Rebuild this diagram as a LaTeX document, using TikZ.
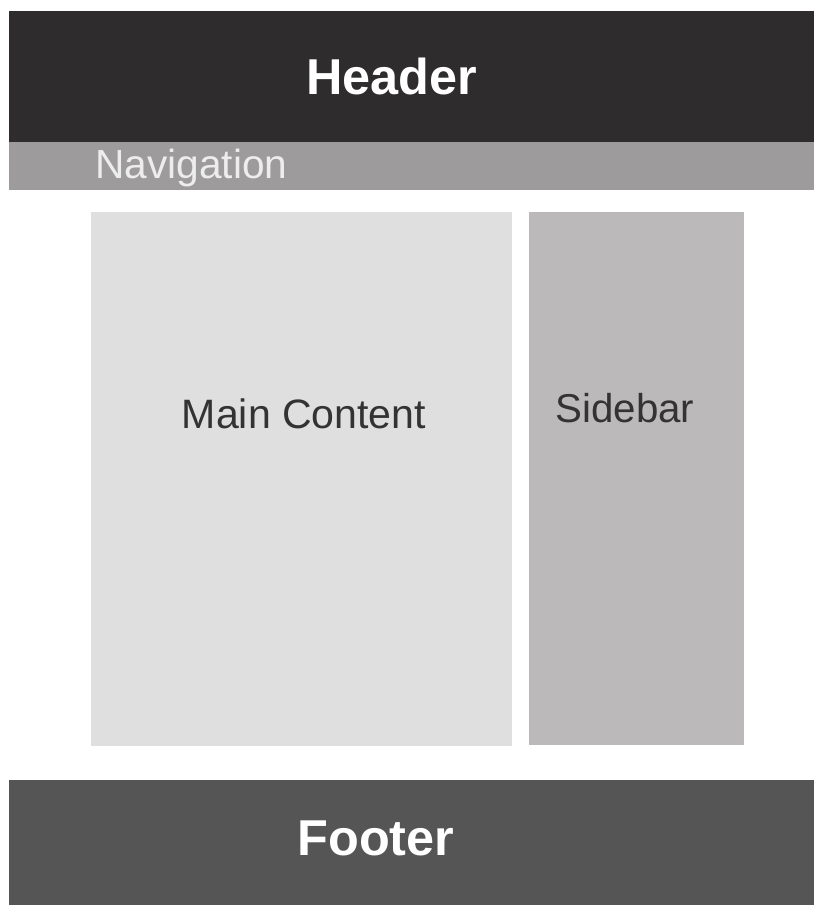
\documentclass[tikz,border=0pt]{standalone}
\usepackage{fontspec}
\setmainfont{Liberation Sans}
\definecolor{headergray}{HTML}{2E2C2D}
\definecolor{navgray}{HTML}{9D9B9C}
\definecolor{maingray}{HTML}{DFDFDF}
\definecolor{sidegray}{HTML}{BBB9BA}
\definecolor{footergray}{HTML}{555555}
\definecolor{textgray}{HTML}{333333}
\tikzset{
    bigtitle/.style={text=white, font=\fontsize{37.8}{40}\selectfont\bfseries, inner sep=0pt},
    boxlabel/.style={text=textgray, font=\fontsize{30.2}{32}\selectfont, inner sep=0pt}
}
\begin{document}
\begin{tikzpicture}[x=0.75pt, y=-0.75pt]
        \useasboundingbox (0, 0) rectangle (814, 905);
        \fill[headergray] (9, 11) rectangle (814, 142);
        \fill[navgray] (9, 142) rectangle (814, 190);
        \fill[maingray] (91, 212) rectangle (512, 746);
        \fill[sidegray] (529, 212) rectangle (744, 745);
        \fill[footergray] (9, 780) rectangle (814, 905);
        \node[bigtitle] (header) at (392, 76) {Header};
        \node[text=white!93!black, font=\fontsize{30.5}{32}\selectfont, inner sep=0pt, anchor=base west] (nav) at (95, 179) {Navigation};
        \node[boxlabel, font=\fontsize{30.8}{32}\selectfont] (main) at (304, 414) {Main Content};
        \node[boxlabel] (sidebar) at (625, 408) {Sidebar};
        \node[bigtitle] (footer) at (376, 838) {Footer};
    \end{tikzpicture}
\end{document}
